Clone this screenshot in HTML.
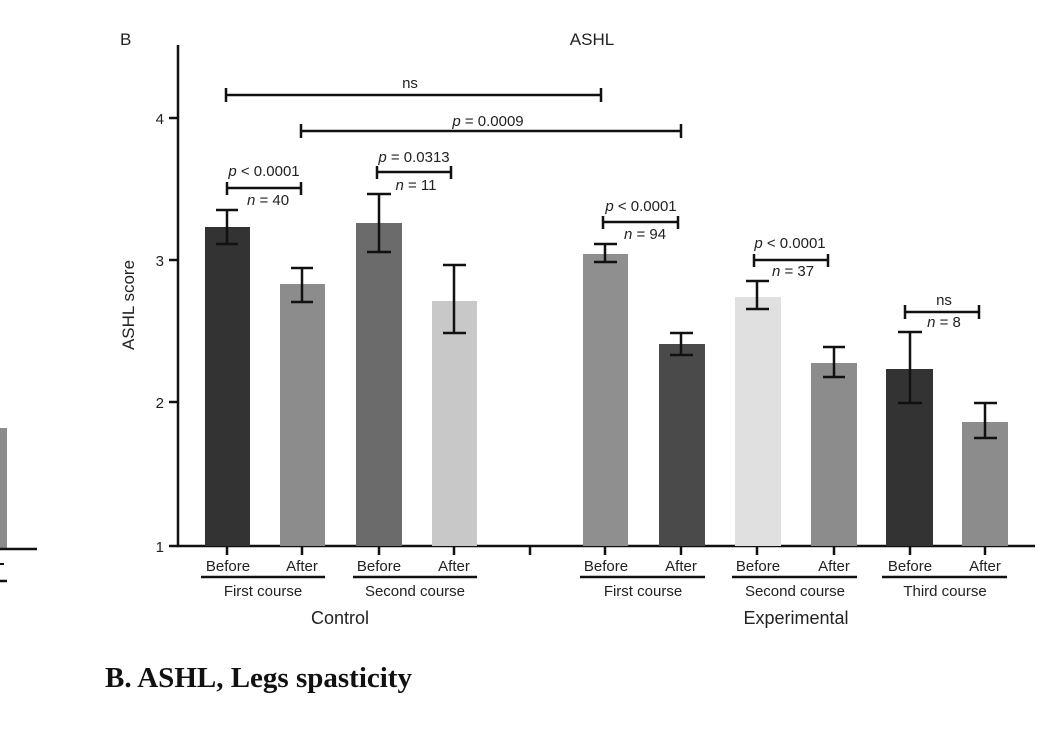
<!DOCTYPE html>
<html><head><meta charset="utf-8"><style>body{margin:0;background:#fff}</style></head><body>
<svg width="1048" height="746" viewBox="0 0 1048 746" xmlns="http://www.w3.org/2000/svg" font-family="Liberation Sans, sans-serif" fill="#222">
<rect width="1048" height="746" fill="#fff"/>
<!-- left partial panel -->
<rect x="0" y="428" width="7" height="120" fill="#8c8c8c"/>
<line x1="0" y1="549" x2="37" y2="549" stroke="#111" stroke-width="2.5"/>
<line x1="0" y1="564" x2="4" y2="564" stroke="#111" stroke-width="2"/>
<line x1="0" y1="581" x2="7" y2="581" stroke="#111" stroke-width="2.5"/>
<text x="120" y="45" font-size="17">B</text>
<text x="592" y="45" font-size="17" text-anchor="middle">ASHL</text>
<text transform="translate(134,305) rotate(-90)" font-size="17" text-anchor="middle">ASHL score</text>
<!-- axes -->
<g stroke="#111" stroke-width="2.5">
<line x1="178" y1="45" x2="178" y2="547"/>
<line x1="177" y1="546" x2="1035" y2="546"/>
<line x1="169" y1="118" x2="178" y2="118"/>
<line x1="169" y1="260" x2="178" y2="260"/>
<line x1="169" y1="402" x2="178" y2="402"/>
<line x1="169" y1="546" x2="178" y2="546"/>
</g>
<g font-size="15" text-anchor="end"><text x="164" y="124">4</text><text x="164" y="266">3</text><text x="164" y="408">2</text><text x="164" y="552">1</text></g>
<!-- bars -->
<rect x="205" y="227" width="45" height="319" fill="#333"/>
<rect x="280" y="284" width="45" height="262" fill="#8c8c8c"/>
<rect x="356" y="223" width="46" height="323" fill="#6b6b6b"/>
<rect x="432" y="301" width="45" height="245" fill="#c8c8c8"/>
<rect x="583" y="254" width="45" height="292" fill="#8f8f8f"/>
<rect x="659" y="344" width="46" height="202" fill="#4a4a4a"/>
<rect x="735" y="297" width="46" height="249" fill="#e0e0e0"/>
<rect x="811" y="363" width="46" height="183" fill="#8c8c8c"/>
<rect x="886" y="369" width="47" height="177" fill="#333"/>
<rect x="962" y="422" width="46" height="124" fill="#8c8c8c"/>
<!-- error bars -->
<g stroke="#111" stroke-width="2.5">
<path d="M227 210V244M216 210H238M216 244H238"/>
<path d="M302 268V302M291 268H313M291 302H313"/>
<path d="M379 194V252M367 194H391M367 252H391"/>
<path d="M454 265V333M443 265H466M443 333H466"/>
<path d="M605 244V262M594 244H617M594 262H617"/>
<path d="M681 333V355M670 333H693M670 355H693"/>
<path d="M757 281V309M746 281H769M746 309H769"/>
<path d="M834 347V377M823 347H845M823 377H845"/>
<path d="M910 332V403M898 332H922M898 403H922"/>
<path d="M985 403V438M974 403H997M974 438H997"/>
</g>
<!-- brackets -->
<g stroke="#111" stroke-width="2.5" fill="none">
<path d="M226 95H601M226 88V102M601 88V102"/>
<path d="M301 131H681M301 124V138M681 124V138"/>
<path d="M227 188H301M227 182V195M301 182V195"/>
<path d="M377 172H451M377 166V179M451 166V179"/>
<path d="M603 222H678M603 216V229M678 216V229"/>
<path d="M754 260H828M754 254V267M828 254V267"/>
<path d="M905 312H979M905 305V319M979 305V319"/>
</g>
<g font-size="15" text-anchor="middle">
<text x="410" y="88">ns</text>
<text x="488" y="126"><tspan font-style="italic">p</tspan> = 0.0009</text>
<text x="264" y="176"><tspan font-style="italic">p</tspan> &lt; 0.0001</text>
<text x="268" y="205"><tspan font-style="italic">n</tspan> = 40</text>
<text x="414" y="162"><tspan font-style="italic">p</tspan> = 0.0313</text>
<text x="416" y="190"><tspan font-style="italic">n</tspan> = 11</text>
<text x="641" y="211"><tspan font-style="italic">p</tspan> &lt; 0.0001</text>
<text x="645" y="239"><tspan font-style="italic">n</tspan> = 94</text>
<text x="790" y="248"><tspan font-style="italic">p</tspan> &lt; 0.0001</text>
<text x="793" y="276"><tspan font-style="italic">n</tspan> = 37</text>
<text x="944" y="305">ns</text>
<text x="944" y="327"><tspan font-style="italic">n</tspan> = 8</text>
</g>
<!-- x ticks -->
<g stroke="#111" stroke-width="2.5">
<path d="M227 546V555M302 546V555M379 546V555M454 546V555M530 546V555M605 546V555M681 546V555M757 546V555M834 546V555M910 546V555M985 546V555"/>
<path d="M201 577H325M353 577H477M580 577H705M732 577H857M882 577H1007"/>
</g>
<g font-size="15" text-anchor="middle">
<text x="228" y="571">Before</text><text x="302" y="571">After</text>
<text x="379" y="571">Before</text><text x="454" y="571">After</text>
<text x="606" y="571">Before</text><text x="681" y="571">After</text>
<text x="758" y="571">Before</text><text x="834" y="571">After</text>
<text x="910" y="571">Before</text><text x="985" y="571">After</text>
<text x="263" y="596">First course</text>
<text x="415" y="596">Second course</text>
<text x="643" y="596">First course</text>
<text x="795" y="596">Second course</text>
<text x="945" y="596">Third course</text>
<text x="340" y="624" font-size="18">Control</text>
<text x="796" y="624" font-size="18">Experimental</text>
</g>
<text x="105" y="687" font-family="Liberation Serif, serif" font-weight="bold" font-size="29" fill="#111">B. ASHL, Legs spasticity</text>
</svg>
</body></html>
